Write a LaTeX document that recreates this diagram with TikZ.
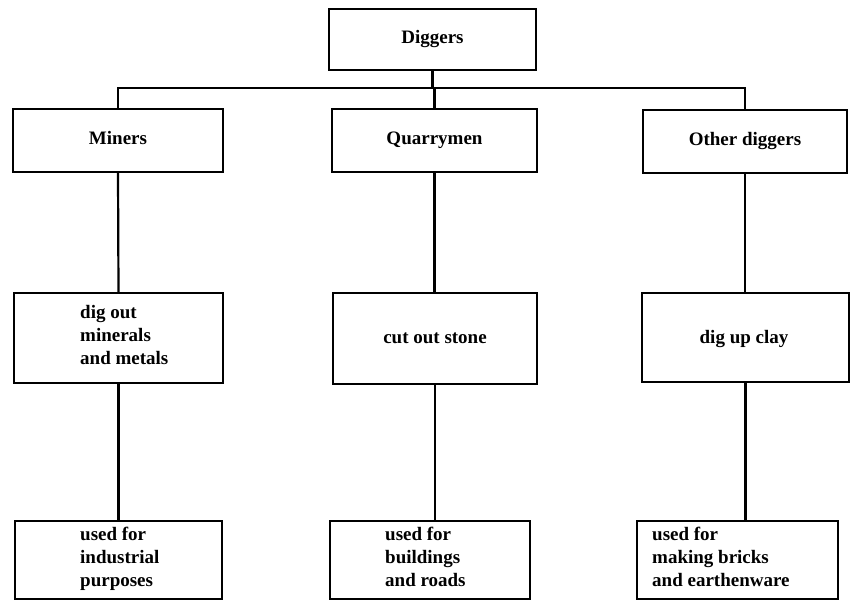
\documentclass[tikz,border=0pt]{standalone}
\usepackage{fontspec}
\setmainfont{Liberation Serif}
\begin{document}
\begin{tikzpicture}[x=1pt,y=-1pt,
  box/.style={draw=black,line width=2.2pt,inner sep=0pt},
  lbl/.style={font=\fontsize{19}{23}\selectfont\bfseries,inner sep=0pt,align=left},
  one/.style={lbl,text height=12pt,text depth=4pt},
  conn/.style={draw=black,line width=2.2pt}]
\useasboundingbox (0,0) rectangle (852,601);
% level 1
\node[box,minimum width=207pt,minimum height=61pt,one] (dig) at (432.5,39.5) {Diggers};
% level 2
\node[box,minimum width=210pt,minimum height=63pt,one] (min) at (118,140.5) {Miners};
\node[box,minimum width=205pt,minimum height=63pt,one] (qua) at (434.5,140.5) {Quarrymen};
\node[box,minimum width=204pt,minimum height=63pt,one] (oth) at (745,141.5) {Other diggers};
% level 3
\node[box,minimum width=209pt,minimum height=90pt] (min3) at (118.5,338) {};
\node[box,minimum width=204pt,minimum height=91pt] (qua3) at (435,338.5) {};
\node[box,minimum width=207pt,minimum height=89pt] (oth3) at (745.5,337.5) {};
\node[lbl,anchor=base west] (tmin3) at (80,365) {dig out\\minerals\\and metals};
\node[one] (tqua3) at (435,340) {cut out stone};
\node[one] (toth3) at (744,340) {dig up clay};
% level 4
\node[box,minimum width=207pt,minimum height=78pt] (min4) at (118.5,560) {};
\node[box,minimum width=200pt,minimum height=78pt] (qua4) at (430,560) {};
\node[box,minimum width=201pt,minimum height=78pt] (oth4) at (737.5,560) {};
\node[lbl,anchor=base west] (tmin4) at (80,586) {used for\\industrial\\purposes};
\node[lbl,anchor=base west] (tqua4) at (385,586) {used for\\buildings\\and roads};
\node[lbl,anchor=base west] (toth4) at (652,586) {used for\\making bricks\\and earthenware};
% connectors
\coordinate (bus) at (0,88);
\draw[conn] (dig.south) -- (dig.south |- bus);
\draw[conn] (min.north) -- (min.north |- bus) -- (oth.north |- bus) -- (oth.north);
\draw[conn] (qua.north |- bus) -- (qua.north);
\draw[conn] (min.south) -- (min3.north);
\draw[conn] (qua.south) -- (qua.south |- qua3.north);
\draw[conn] (oth.south) -- (oth.south |- oth3.north);
\draw[conn] (min3.south) -- (min3.south |- min4.north);
\draw[conn] (qua3.south) -- (qua3.south |- qua4.north);
\draw[conn] (oth3.south) -- (oth3.south |- oth4.north);
\end{tikzpicture}
\end{document}
